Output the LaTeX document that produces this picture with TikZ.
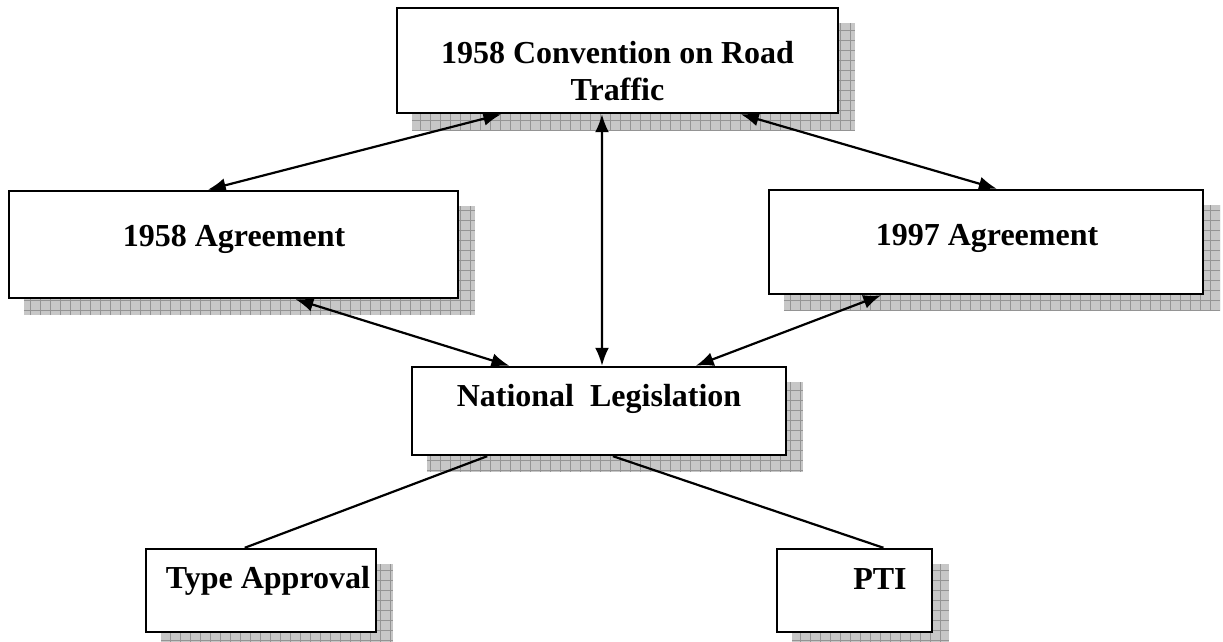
\documentclass[tikz,border=0pt]{standalone}
\usepackage{fontspec}
\setmainfont{Liberation Serif}
\usetikzlibrary{arrows.meta,calc,backgrounds}

% hatched drop shadow behind a box
\newcommand{\gridshadow}[1]{%
  \begin{scope}
    \clip ([shift={(8pt,-8pt)}]#1.south west) rectangle ([shift={(8pt,-8pt)}]#1.north east);
    \fill[black!22] ([shift={(8pt,-8pt)}]#1.south west) rectangle ([shift={(8pt,-8pt)}]#1.north east);
    \draw[black!42, line width=0.4pt, step=5pt] ([shift={(8pt,-8pt)}]#1.south west) grid ([shift={(8pt,-8pt)}]#1.north east);
  \end{scope}}

\begin{document}
\begin{tikzpicture}[>={Latex[length=9pt,width=7pt]},x=0.5pt,y=-0.5pt,
  box/.style={draw, line width=1.2pt, fill=white, inner sep=0pt},
  txt/.style={font=\bfseries\fontsize{16}{18.5}\selectfont, inner sep=0pt, anchor=base},
  link/.style={line width=1.1pt}]
\useasboundingbox (0,0) rectangle (1223,642);

% boxes
\node[box, minimum width=220.5pt, minimum height=52.5pt] (conv) at (617.5,60.5) {};
\node[box, minimum width=224.5pt, minimum height=53.5pt] (agr58) at (233.5,244.5) {};
\node[box, minimum width=217pt, minimum height=52pt] (agr97) at (986,242) {};
\node[box, minimum width=187pt, minimum height=44pt] (nl) at (599,411) {};
\node[box, minimum width=115pt, minimum height=41.5pt] (ta) at (261,590.5) {};
\node[box, minimum width=77.5pt, minimum height=41.5pt] (pti) at (854.5,590.5) {};

% texts
\node[txt, anchor=center, align=center] (convtxt) at (617.5,71) {1958 Convention on Road\\Traffic};
\node[txt] (agr58txt) at (234,247) {1958 Agreement};
\node[txt] (agr97txt) at (987,246) {1997 Agreement};
\node[txt] (nltxt) at (599,407) {National\ \ Legislation};
\node[txt] (tatxt) at (268,588) {Type Approval};
\node[txt] (ptitxt) at (880,589) {PTI};

% connectors
\draw[link,<->] ($(conv.south west)!0.238!(conv.south east)$) -- ($(agr58.north west)!0.443!(agr58.north east)$);
\draw[link,<->] ($(conv.south west)!0.465!(conv.south east)$) -- ($(nl.north west)!0.508!(nl.north east)$);
\draw[link,<->] ($(conv.south west)!0.778!(conv.south east)$) -- ($(agr97.north west)!0.525!(agr97.north east)$);
\draw[link,<->] ($(agr58.south west)!0.637!(agr58.south east)$) -- ($(nl.north west)!0.262!(nl.north east)$);
\draw[link,<->] ($(agr97.south west)!0.260!(agr97.south east)$) -- ($(nl.north west)!0.757!(nl.north east)$);
\draw[link] ($(nl.south west)!0.203!(nl.south east)$) -- ($(ta.north west)!0.43!(ta.north east)$);
\draw[link] ($(nl.south west)!0.537!(nl.south east)$) -- ($(pti.north west)!0.684!(pti.north east)$);

\begin{scope}[on background layer]
  \gridshadow{conv}
  \gridshadow{agr58}
  \gridshadow{agr97}
  \gridshadow{nl}
  \gridshadow{ta}
  \gridshadow{pti}
\end{scope}
\end{tikzpicture}
\end{document}
